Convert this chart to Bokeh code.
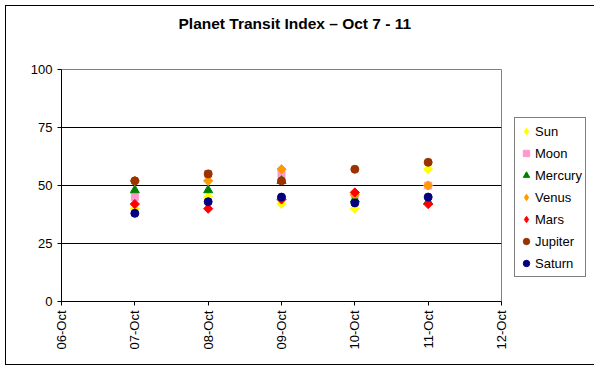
from bokeh.plotting import figure
from bokeh.models import Range1d, FixedTicker, Legend, LegendItem, Title
from bokeh.embed import file_html
from bokeh.resources import INLINE
import math

# ---- data ----
dates = [7, 8, 9, 10, 11]
tick_pos = [6, 7, 8, 9, 10, 11, 12]
tick_labels = ["06-Oct", "07-Oct", "08-Oct", "09-Oct", "10-Oct", "11-Oct", "12-Oct"]
y_ticks = [0, 25, 50, 75, 100]
title_text = "Planet Transit Index  \u2013 Oct 7 - 11"

sun = [40, 45, 42, 40, 57]
moon = [45, 55, 55, 46, 50]
mercury = [48, 48, 52, 44, 43]
venus = [52, 52, 57, 46, 50]
mars = [42, 40, 44, 47, 42]
jupiter = [52, 55, 52, 57, 60]
saturn = [38, 43, 45, 42.5, 45]

# name, values, colour, marker kind
series = [
    ("Sun", sun, "#FFFF00", "diamond"),
    ("Moon", moon, "#FF99CC", "square"),
    ("Mercury", mercury, "#008000", "triangle"),
    ("Venus", venus, "#FF9900", "diamond"),
    ("Mars", mars, "#FF0000", "diamond"),
    ("Jupiter", jupiter, "#993300", "circle"),
    ("Saturn", saturn, "#000080", "circle"),
]
marker_style = {
    "diamond": dict(marker="square", size=6.5, angle=math.pi / 4),
    "square": dict(marker="square", size=7, angle=0),
    "triangle": dict(marker="triangle", size=9, angle=0),
    "circle": dict(marker="circle", size=8, angle=0),
}

p = figure(frame_width=440, frame_height=232, output_backend="svg", toolbar_location=None,
           x_range=Range1d(6, 12), y_range=Range1d(0, 100),
           min_border_left=55, min_border_right=70, min_border_top=63, min_border_bottom=63)
p.styles = {"border": "1px solid black", "margin-left": "5px", "margin-top": "5px"}

# default title unused; a blank spacer title sits between the real title and the plot area
p.title.text = ""
spacer = Title(text=" ", text_font_size="10px", standoff=25)
p.add_layout(spacer, "above")
main_title = Title(text=title_text, text_font="Liberation Sans", text_font_size="15.5px",
                   text_font_style="bold", text_color="black", align="left",
                   offset=117, standoff=0)
p.add_layout(main_title, "above")

p.outline_line_color = "#808080"
p.outline_line_width = 1
p.background_fill_color = "white"
p.border_fill_color = "white"

p.xgrid.visible = False
p.ygrid.ticker = FixedTicker(ticks=[25, 50, 75])
p.ygrid.grid_line_color = "black"
p.ygrid.grid_line_width = 1

for ax in (p.xaxis[0], p.yaxis[0]):
    ax.axis_line_color = "black"
    ax.major_tick_line_color = "black"
    ax.major_tick_out = 4
    ax.major_tick_in = 0
    ax.minor_tick_line_color = None
    ax.major_label_text_font = "Liberation Sans"
    ax.major_label_text_font_size = "13px"
    ax.major_label_text_color = "black"
    ax.major_label_standoff = 5

p.xaxis.ticker = FixedTicker(ticks=tick_pos)
p.xaxis.major_label_overrides = {t: l for t, l in zip(tick_pos, tick_labels)}
p.xaxis.major_label_orientation = math.pi / 2
p.yaxis.ticker = FixedTicker(ticks=y_ticks)

items = []
for name, vals, color, kind in series:
    st = marker_style[kind]
    r = p.scatter(dates, vals, fill_color=color, line_color=color, line_width=1, **st)
    if kind == "diamond":
        # legend swatch only (hidden renderer): the legend ignores marker angle
        proxy = p.scatter(dates, vals, marker="diamond", size=9, fill_color=color,
                          line_color=color, visible=False)
        items.append(LegendItem(label=name, renderers=[proxy]))
    else:
        items.append(LegendItem(label=name, renderers=[r]))

legend = Legend(items=items, location=(13, 24))
legend.border_line_color = "black"
legend.border_line_width = 1
legend.background_fill_color = "white"
legend.background_fill_alpha = 1
legend.inactive_fill_alpha = 0
legend.label_text_font = "Liberation Sans"
legend.label_text_font_size = "13px"
legend.label_text_color = "black"
legend.glyph_width = 16
legend.glyph_height = 20
legend.label_height = 20
legend.spacing = 2
legend.padding = 3
legend.margin = 0
legend.label_standoff = 1
p.add_layout(legend, "right")

open("out.html", "w").write(file_html(p, INLINE))
